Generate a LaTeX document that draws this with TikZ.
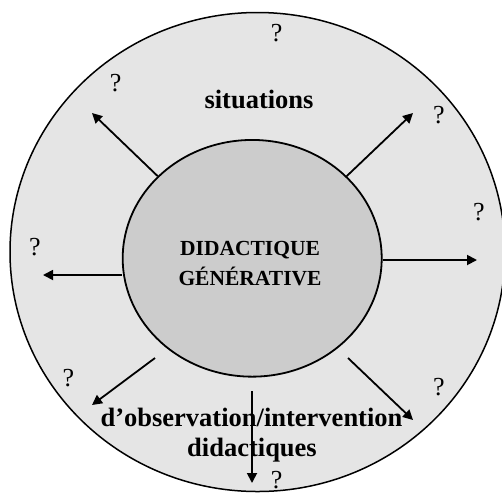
\documentclass[tikz,border=0pt]{standalone}
\usepackage{fontspec}
\setmainfont{Liberation Serif}
\usetikzlibrary{shapes.geometric,arrows.meta}
\begin{document}
\begin{tikzpicture}[x=1pt,y=-1pt,
  outer/.style={fill=black!10,draw=black,line width=1.5pt},
  core/.style={ellipse,fill=black!20,draw=black,line width=1.8pt,minimum width=259pt,minimum height=236.7pt,inner sep=0pt},
  arr/.style={line width=1.8pt,-{Triangle[length=10pt,width=10pt]}},
  lbl/.style={font=\bfseries\fontsize{26.5}{30}\selectfont,inner sep=0pt,anchor=base},
  coretext/.style={font=\bfseries\fontsize{21.5}{30}\selectfont,inner sep=0pt,anchor=base},
  qm/.style={font=\fontsize{26}{30}\selectfont,inner sep=0pt,anchor=base}]
\useasboundingbox (0,0) rectangle (502,493);
% outer region
\path[outer] (257.5,252) ellipse [x radius=247.5pt, y radius=239.5pt];
% core
\node[core] (inner) at (252.2,258.3) {};
\node[coretext] (t1) at (250,255) {DIDACTIQUE};
\node[coretext] (t2) at (250,285) {GÉNÉRATIVE};
% labels
\node[lbl] (sit) at (259,108.3) {situations};
\node[lbl] (obs) at (251.5,426.3) {d’observation/intervention};
\node[lbl] (did) at (252,456.3) {didactiques};
% question marks
\node[qm] (q1) at (276.7,41.5) {?};
\node[qm] (q2) at (115.7,91.5) {?};
\node[qm] (q3) at (439,123) {?};
\node[qm] (q4) at (479,220) {?};
\node[qm] (q5) at (35,255) {?};
\node[qm] (q6) at (68.3,386) {?};
\node[qm] (q7) at (439,395.5) {?};
\node[qm] (q8) at (276.7,488) {?};
% arrow end points
\coordinate (eUL) at (92,113);
\coordinate (eUR) at (413,113);
\coordinate (eL) at (43,275);
\coordinate (eR) at (477,260);
\coordinate (sLL) at (155,358);
\coordinate (eLL) at (92,405);
\coordinate (sLR) at (348,358);
\coordinate (eLR) at (413,420);
\coordinate (sD) at (252,391);
\coordinate (eD) at (252,483);
% arrows
\draw[arr] (inner.139) -- (eUL);
\draw[arr] (inner.41) -- (eUR);
\draw[arr] (inner.west |- eL) -- (eL);
\draw[arr] (inner.east |- eR) -- (eR);
\draw[arr] (sLL) -- (eLL);
\draw[arr] (sLR) -- (eLR);
\draw[arr] (sD) -- (eD);
\end{tikzpicture}
\end{document}
